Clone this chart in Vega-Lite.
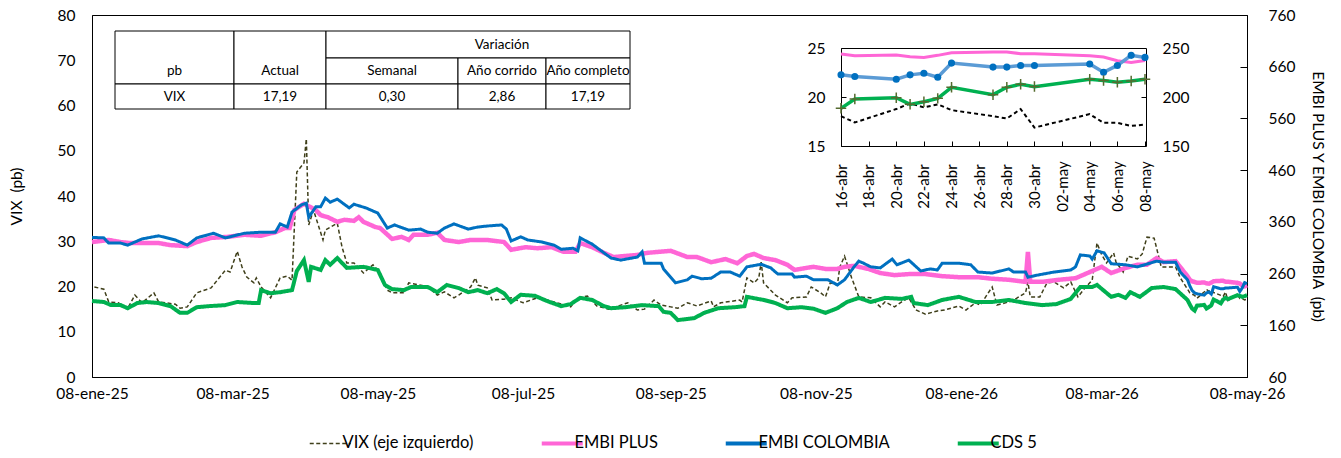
{
"$schema": "https://vega.github.io/schema/vega-lite/v6.json",
"width": 1155, "height": 362,
"autosize": "none",
"padding": {"left": 92, "top": 15, "right": 94, "bottom": 81},
"background": "white",
"config": {
  "font": "Lato",
  "view": {"stroke": "black", "strokeWidth": 1},
  "locale": {
    "number": {"decimal": ",", "thousands": ".", "grouping": [3], "currency": ["$", ""]},
    "time": {"dateTime": "%A, %e de %B de %Y, %X", "date": "%d/%m/%Y", "time": "%H:%M:%S", "periods": ["AM", "PM"],
      "days": ["domingo","lunes","martes","miércoles","jueves","viernes","sábado"],
      "shortDays": ["dom","lun","mar","mié","jue","vie","sáb"],
      "months": ["enero","febrero","marzo","abril","mayo","junio","julio","agosto","septiembre","octubre","noviembre","diciembre"],
      "shortMonths": ["ene","feb","mar","abr","may","jun","jul","ago","sep","oct","nov","dic"]}
  },
  "axis": {"labelFont": "Lato", "titleFont": "Lato", "labelColor": "black", "titleColor": "black", "domainColor": "black", "tickColor": "black", "grid": false, "titleFontWeight": "normal"}
},
"datasets": {
  "vix": [
    {"d":"2025-01-09","v":19.9},{"d":"2025-01-13","v":19.4},{"d":"2025-01-15","v":16.6},{"d":"2025-01-19","v":16.4},{"d":"2025-01-23","v":15.2},{"d":"2025-01-26","v":18.1},{"d":"2025-01-29","v":16.4},{"d":"2025-02-03","v":18.6},{"d":"2025-02-05","v":16.6},{"d":"2025-02-12","v":16.1},{"d":"2025-02-14","v":15.2},{"d":"2025-02-17","v":15.5},{"d":"2025-02-21","v":18.6},{"d":"2025-02-27","v":19.7},{"d":"2025-03-05","v":23.6},{"d":"2025-03-07","v":23.2},{"d":"2025-03-10","v":27.8},{"d":"2025-03-12","v":24.3},{"d":"2025-03-14","v":22.1},{"d":"2025-03-17","v":20.8},{"d":"2025-03-18","v":21.9},{"d":"2025-03-20","v":19.9},{"d":"2025-03-24","v":17.5},{"d":"2025-03-28","v":21.9},{"d":"2025-03-31","v":22.3},{"d":"2025-04-02","v":21.4},{"d":"2025-04-04","v":45.3},{"d":"2025-04-07","v":47.3},{"d":"2025-04-08","v":52.6},{"d":"2025-04-09","v":33.6},{"d":"2025-04-11","v":36.9},{"d":"2025-04-15","v":30.3},{"d":"2025-04-16","v":32.5},{"d":"2025-04-21","v":34.0},{"d":"2025-04-23","v":28.7},{"d":"2025-04-25","v":25.2},{"d":"2025-04-28","v":25.2},{"d":"2025-05-02","v":23.0},{"d":"2025-05-06","v":24.8},{"d":"2025-05-09","v":23.0},{"d":"2025-05-12","v":19.2},{"d":"2025-05-14","v":18.6},{"d":"2025-05-19","v":18.6},{"d":"2025-05-21","v":20.8},{"d":"2025-05-26","v":20.3},{"d":"2025-05-29","v":19.9},{"d":"2025-06-02","v":18.1},{"d":"2025-06-05","v":18.8},{"d":"2025-06-09","v":17.5},{"d":"2025-06-11","v":18.1},{"d":"2025-06-16","v":19.9},{"d":"2025-06-18","v":21.9},{"d":"2025-06-19","v":20.3},{"d":"2025-06-23","v":19.7},{"d":"2025-06-25","v":17.0},{"d":"2025-06-30","v":17.2},{"d":"2025-07-03","v":17.5},{"d":"2025-07-08","v":16.4},{"d":"2025-07-14","v":17.5},{"d":"2025-07-17","v":17.2},{"d":"2025-07-28","v":15.5},{"d":"2025-07-31","v":17.5},{"d":"2025-08-04","v":17.9},{"d":"2025-08-08","v":15.7},{"d":"2025-08-13","v":15.0},{"d":"2025-08-21","v":16.4},{"d":"2025-08-25","v":14.8},{"d":"2025-08-28","v":15.0},{"d":"2025-09-01","v":17.0},{"d":"2025-09-04","v":15.9},{"d":"2025-09-08","v":15.5},{"d":"2025-09-11","v":15.2},{"d":"2025-09-15","v":16.4},{"d":"2025-09-19","v":15.7},{"d":"2025-09-25","v":16.8},{"d":"2025-09-26","v":15.5},{"d":"2025-09-29","v":16.4},{"d":"2025-10-07","v":17.0},{"d":"2025-10-08","v":16.6},{"d":"2025-10-10","v":21.9},{"d":"2025-10-13","v":20.8},{"d":"2025-10-15","v":21.9},{"d":"2025-10-16","v":25.4},{"d":"2025-10-17","v":20.8},{"d":"2025-10-22","v":18.1},{"d":"2025-10-27","v":16.4},{"d":"2025-10-29","v":17.5},{"d":"2025-11-04","v":17.7},{"d":"2025-11-06","v":19.9},{"d":"2025-11-10","v":18.6},{"d":"2025-11-12","v":17.7},{"d":"2025-11-14","v":20.8},{"d":"2025-11-17","v":20.3},{"d":"2025-11-18","v":24.3},{"d":"2025-11-20","v":26.7},{"d":"2025-11-23","v":21.9},{"d":"2025-11-26","v":17.7},{"d":"2025-12-01","v":17.5},{"d":"2025-12-05","v":15.5},{"d":"2025-12-07","v":16.6},{"d":"2025-12-11","v":15.5},{"d":"2025-12-14","v":16.6},{"d":"2025-12-17","v":17.5},{"d":"2025-12-20","v":14.8},{"d":"2025-12-24","v":13.9},{"d":"2025-12-29","v":14.6},{"d":"2026-01-01","v":14.8},{"d":"2026-01-07","v":15.7},{"d":"2026-01-10","v":14.8},{"d":"2026-01-14","v":16.4},{"d":"2026-01-16","v":15.9},{"d":"2026-01-21","v":19.9},{"d":"2026-01-23","v":15.9},{"d":"2026-01-28","v":16.6},{"d":"2026-01-30","v":17.0},{"d":"2026-02-04","v":18.6},{"d":"2026-02-05","v":21.0},{"d":"2026-02-06","v":17.7},{"d":"2026-02-10","v":17.7},{"d":"2026-02-13","v":20.8},{"d":"2026-02-16","v":21.0},{"d":"2026-02-20","v":19.7},{"d":"2026-02-23","v":21.0},{"d":"2026-02-26","v":17.7},{"d":"2026-03-01","v":19.7},{"d":"2026-03-04","v":21.4},{"d":"2026-03-06","v":29.6},{"d":"2026-03-08","v":27.0},{"d":"2026-03-10","v":25.2},{"d":"2026-03-13","v":27.4},{"d":"2026-03-14","v":25.4},{"d":"2026-03-17","v":23.2},{"d":"2026-03-19","v":26.7},{"d":"2026-03-23","v":26.1},{"d":"2026-03-25","v":27.2},{"d":"2026-03-27","v":30.9},{"d":"2026-03-30","v":30.7},{"d":"2026-04-02","v":24.3},{"d":"2026-04-08","v":24.3},{"d":"2026-04-10","v":21.9},{"d":"2026-04-14","v":18.6},{"d":"2026-04-15","v":18.3},
    {"d":"2026-04-16","v":18.05},{"d":"2026-04-17","v":17.4},{"d":"2026-04-20","v":18.77},{"d":"2026-04-21","v":19.35},{"d":"2026-04-22","v":18.94},{"d":"2026-04-23","v":19.25},{"d":"2026-04-24","v":18.66},{"d":"2026-04-27","v":18.05},{"d":"2026-04-28","v":17.8},{"d":"2026-04-29","v":18.77},{"d":"2026-04-30","v":16.88},{"d":"2026-05-04","v":18.25},{"d":"2026-05-05","v":17.36},{"d":"2026-05-06","v":17.36},{"d":"2026-05-07","v":17.05},{"d":"2026-05-08","v":17.19}
  ],
  "embip": [
    {"d":"2025-01-08","v":321},{"d":"2025-01-15","v":325},{"d":"2025-01-20","v":321},{"d":"2025-01-24","v":319},{"d":"2025-01-30","v":319},{"d":"2025-02-05","v":319},{"d":"2025-02-10","v":315},{"d":"2025-02-17","v":313},{"d":"2025-02-21","v":321},{"d":"2025-02-27","v":329},{"d":"2025-03-06","v":331},{"d":"2025-03-13","v":335},{"d":"2025-03-20","v":333},{"d":"2025-03-26","v":340},{"d":"2025-03-30","v":348},{"d":"2025-04-01","v":348},{"d":"2025-04-03","v":383},{"d":"2025-04-07","v":395},{"d":"2025-04-12","v":383},{"d":"2025-04-14","v":373},{"d":"2025-04-17","v":369},{"d":"2025-04-21","v":360},{"d":"2025-04-24","v":364},{"d":"2025-04-28","v":362},{"d":"2025-04-30","v":369},{"d":"2025-05-02","v":360},{"d":"2025-05-07","v":350},{"d":"2025-05-09","v":348},{"d":"2025-05-14","v":327},{"d":"2025-05-18","v":331},{"d":"2025-05-21","v":325},{"d":"2025-05-23","v":335},{"d":"2025-05-29","v":335},{"d":"2025-06-02","v":339},{"d":"2025-06-05","v":325},{"d":"2025-06-11","v":321},{"d":"2025-06-16","v":325},{"d":"2025-06-23","v":325},{"d":"2025-06-30","v":321},{"d":"2025-07-03","v":306},{"d":"2025-07-09","v":311},{"d":"2025-07-14","v":309},{"d":"2025-07-20","v":311},{"d":"2025-07-25","v":302},{"d":"2025-07-30","v":302},{"d":"2025-08-01","v":319},{"d":"2025-08-06","v":311},{"d":"2025-08-11","v":300},{"d":"2025-08-15","v":292},{"d":"2025-08-20","v":294},{"d":"2025-08-25","v":296},{"d":"2025-08-29","v":300},{"d":"2025-09-08","v":304},{"d":"2025-09-15","v":292},{"d":"2025-09-19","v":292},{"d":"2025-09-25","v":282},{"d":"2025-10-01","v":288},{"d":"2025-10-06","v":280},{"d":"2025-10-10","v":294},{"d":"2025-10-13","v":298},{"d":"2025-10-17","v":290},{"d":"2025-10-22","v":286},{"d":"2025-10-27","v":277},{"d":"2025-10-30","v":267},{"d":"2025-11-04","v":271},{"d":"2025-11-07","v":273},{"d":"2025-11-12","v":269},{"d":"2025-11-17","v":269},{"d":"2025-11-20","v":273},{"d":"2025-11-24","v":275},{"d":"2025-11-30","v":269},{"d":"2025-12-05","v":261},{"d":"2025-12-11","v":257},{"d":"2025-12-17","v":259},{"d":"2025-12-24","v":259},{"d":"2025-12-31","v":255},{"d":"2026-01-07","v":253},{"d":"2026-01-15","v":253},{"d":"2026-01-21","v":250},{"d":"2026-01-28","v":248},{"d":"2026-02-04","v":244},{"d":"2026-02-05","v":302},{"d":"2026-02-06","v":244},{"d":"2026-02-11","v":244},{"d":"2026-02-18","v":248},{"d":"2026-02-25","v":251},{"d":"2026-03-02","v":261},{"d":"2026-03-05","v":267},{"d":"2026-03-08","v":273},{"d":"2026-03-12","v":261},{"d":"2026-03-18","v":271},{"d":"2026-03-23","v":277},{"d":"2026-03-27","v":277},{"d":"2026-03-31","v":290},{"d":"2026-04-03","v":282},{"d":"2026-04-08","v":284},{"d":"2026-04-13","v":255},{"d":"2026-04-14","v":248},{"d":"2026-04-15","v":245},
    {"d":"2026-04-16","v":243.8},{"d":"2026-04-17","v":242.1},{"d":"2026-04-20","v":242.8},{"d":"2026-04-21","v":241.1},{"d":"2026-04-22","v":240.4},{"d":"2026-04-23","v":242.5},{"d":"2026-04-24","v":245.2},{"d":"2026-04-27","v":245.9},{"d":"2026-04-28","v":245.9},{"d":"2026-04-29","v":244.2},{"d":"2026-04-30","v":244.2},{"d":"2026-05-04","v":242.1},{"d":"2026-05-05","v":240.8},{"d":"2026-05-06","v":237.0},{"d":"2026-05-07","v":235.3},{"d":"2026-05-08","v":237.3}
  ],
  "embic": [
    {"d":"2025-01-08","v":330},{"d":"2025-01-13","v":329},{"d":"2025-01-15","v":319},{"d":"2025-01-20","v":319},{"d":"2025-01-23","v":315},{"d":"2025-01-29","v":327},{"d":"2025-02-05","v":333},{"d":"2025-02-12","v":325},{"d":"2025-02-17","v":315},{"d":"2025-02-21","v":329},{"d":"2025-02-28","v":338},{"d":"2025-03-05","v":329},{"d":"2025-03-13","v":338},{"d":"2025-03-20","v":340},{"d":"2025-03-26","v":340},{"d":"2025-03-28","v":356},{"d":"2025-03-31","v":350},{"d":"2025-04-02","v":379},{"d":"2025-04-06","v":393},{"d":"2025-04-08","v":396},{"d":"2025-04-09","v":369},{"d":"2025-04-12","v":389},{"d":"2025-04-14","v":389},{"d":"2025-04-16","v":406},{"d":"2025-04-18","v":398},{"d":"2025-04-21","v":404},{"d":"2025-04-26","v":387},{"d":"2025-04-28","v":394},{"d":"2025-05-03","v":387},{"d":"2025-05-08","v":377},{"d":"2025-05-12","v":348},{"d":"2025-05-15","v":354},{"d":"2025-05-21","v":344},{"d":"2025-05-26","v":346},{"d":"2025-05-29","v":340},{"d":"2025-06-02","v":338},{"d":"2025-06-05","v":348},{"d":"2025-06-09","v":356},{"d":"2025-06-15","v":346},{"d":"2025-06-19","v":350},{"d":"2025-06-23","v":352},{"d":"2025-06-29","v":354},{"d":"2025-07-01","v":346},{"d":"2025-07-03","v":323},{"d":"2025-07-07","v":331},{"d":"2025-07-10","v":325},{"d":"2025-07-16","v":321},{"d":"2025-07-21","v":315},{"d":"2025-07-24","v":307},{"d":"2025-07-29","v":309},{"d":"2025-07-31","v":304},{"d":"2025-08-01","v":329},{"d":"2025-08-06","v":317},{"d":"2025-08-11","v":300},{"d":"2025-08-14","v":290},{"d":"2025-08-18","v":286},{"d":"2025-08-25","v":292},{"d":"2025-08-27","v":302},{"d":"2025-08-28","v":280},{"d":"2025-09-04","v":280},{"d":"2025-09-05","v":269},{"d":"2025-09-10","v":242},{"d":"2025-09-15","v":248},{"d":"2025-09-17","v":255},{"d":"2025-09-21","v":250},{"d":"2025-09-25","v":251},{"d":"2025-09-29","v":263},{"d":"2025-10-03","v":263},{"d":"2025-10-07","v":255},{"d":"2025-10-10","v":273},{"d":"2025-10-16","v":278},{"d":"2025-10-20","v":271},{"d":"2025-10-23","v":259},{"d":"2025-10-29","v":259},{"d":"2025-10-30","v":253},{"d":"2025-11-04","v":255},{"d":"2025-11-07","v":248},{"d":"2025-11-13","v":248},{"d":"2025-11-17","v":238},{"d":"2025-11-20","v":248},{"d":"2025-11-24","v":273},{"d":"2025-11-26","v":284},{"d":"2025-11-28","v":280},{"d":"2025-12-01","v":273},{"d":"2025-12-05","v":271},{"d":"2025-12-10","v":288},{"d":"2025-12-12","v":277},{"d":"2025-12-17","v":286},{"d":"2025-12-22","v":265},{"d":"2025-12-26","v":269},{"d":"2025-12-29","v":267},{"d":"2025-12-31","v":280},{"d":"2026-01-07","v":280},{"d":"2026-01-12","v":277},{"d":"2026-01-15","v":263},{"d":"2026-01-21","v":261},{"d":"2026-01-28","v":269},{"d":"2026-01-30","v":263},{"d":"2026-02-04","v":263},{"d":"2026-02-05","v":253},{"d":"2026-02-09","v":257},{"d":"2026-02-16","v":263},{"d":"2026-02-23","v":267},{"d":"2026-02-25","v":273},{"d":"2026-02-27","v":296},{"d":"2026-03-03","v":294},{"d":"2026-03-04","v":288},{"d":"2026-03-06","v":304},{"d":"2026-03-09","v":300},{"d":"2026-03-12","v":279},{"d":"2026-03-18","v":277},{"d":"2026-03-23","v":273},{"d":"2026-03-26","v":277},{"d":"2026-03-31","v":284},{"d":"2026-04-03","v":282},{"d":"2026-04-08","v":282},{"d":"2026-04-10","v":263},{"d":"2026-04-13","v":248},{"d":"2026-04-14","v":236},{"d":"2026-04-15","v":227},
    {"d":"2026-04-16","v":222.6},{"d":"2026-04-17","v":220.9},{"d":"2026-04-20","v":218.2},{"d":"2026-04-21","v":222.6},{"d":"2026-04-22","v":224.3},{"d":"2026-04-23","v":220.2},{"d":"2026-04-24","v":234.6},{"d":"2026-04-27","v":230.5},{"d":"2026-04-28","v":230.5},{"d":"2026-04-29","v":232.2},{"d":"2026-04-30","v":232.2},{"d":"2026-05-04","v":233.6},{"d":"2026-05-05","v":225.3},{"d":"2026-05-06","v":232.2},{"d":"2026-05-07","v":242.5},{"d":"2026-05-08","v":240.4}
  ],
  "cds": [
    {"d":"2025-01-08","v":207},{"d":"2025-01-13","v":205},{"d":"2025-01-16","v":199},{"d":"2025-01-20","v":199},{"d":"2025-01-23","v":193},{"d":"2025-01-27","v":203},{"d":"2025-01-31","v":205},{"d":"2025-02-05","v":203},{"d":"2025-02-10","v":197},{"d":"2025-02-14","v":184},{"d":"2025-02-17","v":184},{"d":"2025-02-21","v":195},{"d":"2025-02-26","v":197},{"d":"2025-03-05","v":199},{"d":"2025-03-10","v":205},{"d":"2025-03-17","v":203},{"d":"2025-03-19","v":203},{"d":"2025-03-20","v":228},{"d":"2025-03-24","v":222},{"d":"2025-03-28","v":224},{"d":"2025-04-02","v":228},{"d":"2025-04-04","v":265},{"d":"2025-04-07","v":286},{"d":"2025-04-09","v":244},{"d":"2025-04-10","v":273},{"d":"2025-04-14","v":267},{"d":"2025-04-16","v":286},{"d":"2025-04-18","v":277},{"d":"2025-04-21","v":290},{"d":"2025-04-25","v":271},{"d":"2025-05-02","v":273},{"d":"2025-05-08","v":267},{"d":"2025-05-11","v":238},{"d":"2025-05-14","v":230},{"d":"2025-05-19","v":228},{"d":"2025-05-22","v":234},{"d":"2025-05-29","v":234},{"d":"2025-06-02","v":224},{"d":"2025-06-06","v":238},{"d":"2025-06-11","v":232},{"d":"2025-06-15","v":224},{"d":"2025-06-19","v":228},{"d":"2025-06-23","v":222},{"d":"2025-06-27","v":230},{"d":"2025-06-30","v":222},{"d":"2025-07-03","v":205},{"d":"2025-07-07","v":219},{"d":"2025-07-13","v":217},{"d":"2025-07-18","v":207},{"d":"2025-07-24","v":197},{"d":"2025-07-28","v":201},{"d":"2025-08-01","v":213},{"d":"2025-08-06","v":209},{"d":"2025-08-11","v":197},{"d":"2025-08-14","v":193},{"d":"2025-08-20","v":195},{"d":"2025-08-27","v":199},{"d":"2025-09-03","v":197},{"d":"2025-09-05","v":186},{"d":"2025-09-08","v":184},{"d":"2025-09-11","v":170},{"d":"2025-09-18","v":174},{"d":"2025-09-22","v":184},{"d":"2025-09-28","v":193},{"d":"2025-10-05","v":195},{"d":"2025-10-09","v":197},{"d":"2025-10-10","v":215},{"d":"2025-10-17","v":209},{"d":"2025-10-22","v":203},{"d":"2025-10-27","v":193},{"d":"2025-11-02","v":195},{"d":"2025-11-07","v":192},{"d":"2025-11-12","v":184},{"d":"2025-11-17","v":193},{"d":"2025-11-21","v":205},{"d":"2025-11-26","v":213},{"d":"2025-12-01","v":205},{"d":"2025-12-07","v":213},{"d":"2025-12-14","v":211},{"d":"2025-12-18","v":215},{"d":"2025-12-19","v":203},{"d":"2025-12-25","v":199},{"d":"2025-12-31","v":209},{"d":"2026-01-07","v":215},{"d":"2026-01-14","v":205},{"d":"2026-01-21","v":205},{"d":"2026-01-28","v":209},{"d":"2026-02-04","v":203},{"d":"2026-02-11","v":199},{"d":"2026-02-17","v":201},{"d":"2026-02-23","v":211},{"d":"2026-02-27","v":234},{"d":"2026-03-04","v":234},{"d":"2026-03-06","v":238},{"d":"2026-03-12","v":215},{"d":"2026-03-15","v":219},{"d":"2026-03-18","v":213},{"d":"2026-03-20","v":224},{"d":"2026-03-24","v":215},{"d":"2026-03-29","v":232},{"d":"2026-04-03","v":234},{"d":"2026-04-08","v":230},{"d":"2026-04-13","v":209},{"d":"2026-04-14","v":200},{"d":"2026-04-15","v":192},
    {"d":"2026-04-16","v":188.4},{"d":"2026-04-17","v":198.0},{"d":"2026-04-20","v":199.3},{"d":"2026-04-21","v":192.5},{"d":"2026-04-22","v":195.2},{"d":"2026-04-23","v":198.6},{"d":"2026-04-24","v":209.9},{"d":"2026-04-27","v":202.4},{"d":"2026-04-28","v":209.9},{"d":"2026-04-29","v":213.0},{"d":"2026-04-30","v":210.6},{"d":"2026-05-04","v":218.2},{"d":"2026-05-05","v":216.8},{"d":"2026-05-06","v":215.1},{"d":"2026-05-07","v":216.4},{"d":"2026-05-08","v":218.2}
  ],
  "tab": [
    {"t":"pb","c0":0,"c1":1,"r0":0,"r1":2,"cm":0.5,"rm":1.5},
    {"t":"Actual","c0":1,"c1":2,"r0":0,"r1":2,"cm":1.5,"rm":1.5},
    {"t":"Variación","c0":2,"c1":5,"r0":0,"r1":1,"cm":3.5,"rm":0.5},
    {"t":"Semanal","c0":2,"c1":3,"r0":1,"r1":2,"cm":2.5,"rm":1.5},
    {"t":"Año corrido","c0":3,"c1":4,"r0":1,"r1":2,"cm":3.5,"rm":1.5},
    {"t":"Año completo","c0":4,"c1":5,"r0":1,"r1":2,"cm":4.5,"rm":1.5},
    {"t":"VIX","c0":0,"c1":1,"r0":2,"r1":3,"cm":0.5,"rm":2.5},
    {"t":"17,19","c0":1,"c1":2,"r0":2,"r1":3,"cm":1.5,"rm":2.5},
    {"t":"0,30","c0":2,"c1":3,"r0":2,"r1":3,"cm":2.5,"rm":2.5},
    {"t":"2,86","c0":3,"c1":4,"r0":2,"r1":3,"cm":3.5,"rm":2.5},
    {"t":"17,19","c0":4,"c1":5,"r0":2,"r1":3,"cm":4.5,"rm":2.5}
  ]
},
"layer": [
  {
    "layer": [
      {
        "data": {"name": "vix"},
        "mark": {"type": "line", "strokeWidth": 1.5},
        "encoding": {
          "x": {"field": "d", "type": "temporal",
            "scale": {"type": "utc", "domain": [{"year":2025,"month":1,"date":8,"utc":true},{"year":2026,"month":5,"date":8,"utc":true}]},
            "axis": {"values": [{"year":2025,"month":1,"date":8,"utc":true},{"year":2025,"month":3,"date":8,"utc":true},{"year":2025,"month":5,"date":8,"utc":true},{"year":2025,"month":7,"date":8,"utc":true},{"year":2025,"month":9,"date":8,"utc":true},{"year":2025,"month":11,"date":8,"utc":true},{"year":2026,"month":1,"date":8,"utc":true},{"year":2026,"month":3,"date":8,"utc":true},{"year":2026,"month":5,"date":8,"utc":true}],
              "labelExpr": "utcFormat(datum.value, '%d-%b-%y')", "labelFontSize": 15.5, "labelPadding": 9, "ticks": false, "title": null, "labelFlush": false, "labelOverlap": false}},
          "y": {"field": "v", "type": "quantitative", "scale": {"domain": [0, 80], "nice": false, "zero": false},
            "axis": {"orient": "left", "values": [0,10,20,30,40,50,60,70,80], "ticks": false, "labelPadding": 17, "labelFontSize": 15.5, "title": "VIX \u00a0(pb)", "titleFontSize": 15.5, "titlePadding": 33}},
          "color": {"datum": "VIX (eje izquierdo)", "type": "nominal",
            "scale": {"domain": ["VIX (eje izquierdo)","EMBI PLUS","EMBI COLOMBIA","CDS 5"], "range": ["#3f3f1a","#ff66d6","#0070c0","#00b050"]},
            "legend": {"orient": "none", "legendX": 230, "legendY": 420, "direction": "horizontal", "title": null, "symbolType": "stroke", "symbolSize": 1681, "symbolStrokeWidth": 4, "labelFontSize": 16.5, "labelFont": "Lato", "labelColor": "black", "columnPadding": 59, "labelOffset": 4,
              "encode": {"symbols": {"update": {"strokeWidth": {"signal": "datum.value === 'VIX (eje izquierdo)' ? 1.5 : 4"}}}}}},
          "strokeDash": {"datum": "VIX (eje izquierdo)", "type": "nominal",
            "scale": {"domain": ["VIX (eje izquierdo)","EMBI PLUS","EMBI COLOMBIA","CDS 5"], "range": [[4,2.5],[1,0],[1,0],[1,0]]},
            "legend": {"orient": "none", "legendX": 230, "legendY": 420, "direction": "horizontal", "title": null, "symbolType": "stroke", "symbolSize": 1681, "symbolStrokeWidth": 4, "labelFontSize": 16.5, "labelFont": "Lato", "labelColor": "black", "columnPadding": 59, "labelOffset": 4}}
        }
      },
      {
        "data": {"name": "embip"},
        "mark": {"type": "line", "strokeWidth": 4.5},
        "encoding": {
          "x": {"field": "d", "type": "temporal"},
          "y": {"field": "v", "type": "quantitative", "scale": {"domain": [60, 760], "nice": false, "zero": false},
            "axis": {"orient": "right", "values": [60,160,260,360,460,560,660,760], "tickSize": -7, "labelPadding": 28, "labelFontSize": 15.5, "title": "EMBI PLUS Y EMBI COLOMBIA \u00a0(pb)", "titleFontSize": 15.5, "titlePadding": 15}},
          "color": {"datum": "EMBI PLUS", "type": "nominal"},
          "strokeDash": {"datum": "EMBI PLUS", "type": "nominal"}
        }
      },
      {
        "data": {"name": "embic"},
        "mark": {"type": "line", "strokeWidth": 3},
        "encoding": {
          "x": {"field": "d", "type": "temporal"},
          "y": {"field": "v", "type": "quantitative", "scale": {"domain": [60, 760], "nice": false, "zero": false}, "axis": null},
          "color": {"datum": "EMBI COLOMBIA", "type": "nominal"},
          "strokeDash": {"datum": "EMBI COLOMBIA", "type": "nominal"}
        }
      },
      {
        "data": {"name": "cds"},
        "mark": {"type": "line", "strokeWidth": 4},
        "encoding": {
          "x": {"field": "d", "type": "temporal"},
          "y": {"field": "v", "type": "quantitative", "scale": {"domain": [60, 760], "nice": false, "zero": false}, "axis": null},
          "color": {"datum": "CDS 5", "type": "nominal"},
          "strokeDash": {"datum": "CDS 5", "type": "nominal"}
        }
      }
    ],
    "resolve": {"scale": {"y": "independent"}}
  },
  {
    "layer": [
      {
        "data": {"name": "vix"},
        "transform": [{"filter": {"field": "d", "gte": {"year":2026,"month":4,"date":16,"utc":true}}}],
        "mark": {"type": "line", "color": "black", "strokeWidth": 2, "strokeDash": [4, 3]},
        "encoding": {
          "x": {"field": "d", "type": "temporal",
            "scale": {"type": "utc", "domain": [{"year":2026,"month":4,"date":16,"utc":true},{"year":2026,"month":5,"date":8,"utc":true}], "range": [749, 1053]},
            "axis": {"orient": "bottom", "offset": -231, "values": [{"year":2026,"month":4,"date":16,"utc":true},{"year":2026,"month":4,"date":18,"utc":true},{"year":2026,"month":4,"date":20,"utc":true},{"year":2026,"month":4,"date":22,"utc":true},{"year":2026,"month":4,"date":24,"utc":true},{"year":2026,"month":4,"date":26,"utc":true},{"year":2026,"month":4,"date":28,"utc":true},{"year":2026,"month":4,"date":30,"utc":true},{"year":2026,"month":5,"date":2,"utc":true},{"year":2026,"month":5,"date":4,"utc":true},{"year":2026,"month":5,"date":6,"utc":true},{"year":2026,"month":5,"date":8,"utc":true}],
              "labelExpr": "utcFormat(datum.value, '%d-%b')", "labelAngle": 270, "labelAlign": "center", "labelBaseline": "middle", "labelPadding": 45, "tickSize": -5, "labelFontSize": 15, "title": null, "labelFlush": false, "labelOverlap": false}},
          "y": {"field": "v", "type": "quantitative", "scale": {"domain": [15, 25], "range": [131, 33], "nice": false, "zero": false},
            "axis": {"orient": "left", "offset": -749, "values": [15, 20, 25], "tickSize": -5, "labelPadding": 21, "labelFontSize": 15.5, "title": null}}
        }
      },
      {
        "data": {"name": "embip"},
        "transform": [{"filter": {"field": "d", "gte": {"year":2026,"month":4,"date":16,"utc":true}}}],
        "mark": {"type": "line", "color": "#ff66d6", "strokeWidth": 3},
        "encoding": {
          "x": {"field": "d", "type": "temporal",
            "axis": {"orient": "top", "offset": -33, "labels": false, "ticks": false, "title": null}},
          "y": {"field": "v", "type": "quantitative", "scale": {"domain": [150, 250], "range": [131, 33], "nice": false, "zero": false},
            "axis": {"orient": "right", "offset": -101, "values": [150, 200, 250], "tickSize": -5, "labelPadding": 21, "labelFontSize": 15.5, "title": null}}
        }
      },
      {
        "data": {"name": "embic"},
        "transform": [{"filter": {"field": "d", "gte": {"year":2026,"month":4,"date":16,"utc":true}}}],
        "mark": {"type": "line", "color": "#5b9bd5", "strokeWidth": 3.5},
        "encoding": {
          "x": {"field": "d", "type": "temporal", "axis": null},
          "y": {"field": "v", "type": "quantitative", "scale": {"domain": [150, 250], "range": [131, 33], "nice": false, "zero": false}, "axis": null}
        }
      },
      {
        "data": {"name": "embic"},
        "transform": [{"filter": {"field": "d", "gte": {"year":2026,"month":4,"date":16,"utc":true}}}],
        "mark": {"type": "point", "filled": true, "color": "#0070c0", "size": 50, "opacity": 1},
        "encoding": {
          "x": {"field": "d", "type": "temporal", "axis": null},
          "y": {"field": "v", "type": "quantitative", "scale": {"domain": [150, 250], "range": [131, 33], "nice": false, "zero": false}, "axis": null}
        }
      },
      {
        "data": {"name": "cds"},
        "transform": [{"filter": {"field": "d", "gte": {"year":2026,"month":4,"date":16,"utc":true}}}],
        "mark": {"type": "line", "color": "#00b050", "strokeWidth": 3.5},
        "encoding": {
          "x": {"field": "d", "type": "temporal", "axis": null},
          "y": {"field": "v", "type": "quantitative", "scale": {"domain": [150, 250], "range": [131, 33], "nice": false, "zero": false}, "axis": null}
        }
      },
      {
        "data": {"name": "cds"},
        "transform": [{"filter": {"field": "d", "gte": {"year":2026,"month":4,"date":16,"utc":true}}}],
        "mark": {"type": "point", "shape": "M-1,0H1M0,-1V1", "filled": false, "color": "#556b2f", "strokeWidth": 1.5, "size": 110, "opacity": 1},
        "encoding": {
          "x": {"field": "d", "type": "temporal", "axis": null},
          "y": {"field": "v", "type": "quantitative", "scale": {"domain": [150, 250], "range": [131, 33], "nice": false, "zero": false}, "axis": null}
        }
      }
    ],
    "resolve": {"scale": {"y": "independent"}, "axis": {"x": "independent"}}
  },
  {
    "data": {"name": "tab"},
    "layer": [
      {
        "mark": {"type": "rect", "fill": "white", "stroke": "black", "strokeWidth": 1},
        "encoding": {
          "x": {"field": "c0", "type": "quantitative", "scale": {"domain": [0,1,2,3,4,5], "range": [23,142,234,366,454,538], "zero": false, "nice": false}, "axis": null},
          "x2": {"field": "c1"},
          "y": {"field": "r0", "type": "quantitative", "scale": {"domain": [0,1,2,3], "range": [16,43,69,94], "zero": false, "nice": false}, "axis": null},
          "y2": {"field": "r1"}
        }
      },
      {
        "mark": {"type": "text", "fontSize": 13.5, "font": "Lato", "color": "black", "baseline": "middle", "align": "center"},
        "encoding": {
          "x": {"field": "cm", "type": "quantitative"},
          "y": {"field": "rm", "type": "quantitative"},
          "text": {"field": "t"}
        }
      }
    ]
  }
],
"resolve": {"scale": {"x": "independent", "y": "independent"}}
}
